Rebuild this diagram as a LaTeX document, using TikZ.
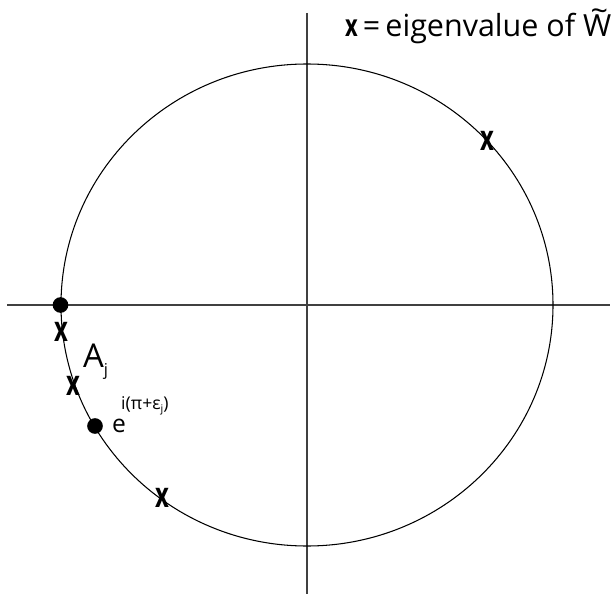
\documentclass[tikz,border=0pt]{standalone}
\usepackage{fontspec}
\setmainfont{Open Sans}
\usetikzlibrary{positioning}

\newcommand{\eigmark}{\scalebox{0.68}[1]{\textbf{x}}}

\begin{document}
\begin{tikzpicture}[x=0.03cm,y=-0.03cm]
  \tikzset{
    axis/.style={line width=1.2pt,black!75},
    eig/.style={font=\fontsize{30}{30}\selectfont,inner sep=0pt},
    root/.style={circle,fill=black,inner sep=0pt,minimum size=0.47cm},
    lbl/.style={inner sep=0pt,anchor=base west}
  }
  \useasboundingbox (0,0) rectangle (614,594);
  % axes
  \coordinate (O) at (307,305);
  \coordinate (xl) at (7,305);
  \coordinate (xr) at (610,305);
  \coordinate (yt) at (307,13);
  \coordinate (yb) at (307,594);
  \draw[axis] (xl)--(xr);
  \draw[axis] (yt)--(yb);
  % unit circle
  \draw[line width=0.9pt] (O) ellipse (246 and 241);
  % roots on the circle
  \node[root] (r1) at (60.5,305) {};
  \node[root] (r2) at (95,426) {};
  % eigenvalues
  \node[eig] (e1) at (61,332) {\eigmark};
  \node[eig] (e2) at (73,386) {\eigmark};
  \node[eig] (e3) at (162,498) {\eigmark};
  \node[eig] (e4) at (487,141) {\eigmark};
  % labels
  \node[lbl,font=\fontsize{28}{28}\selectfont] (aj) at (83,367) {A\raisebox{-0.25em}{\fontsize{14}{14}\selectfont j}};
  \node[lbl,font=\fontsize{21}{21}\selectfont] (ex) at (112,432) {e};
  \node[lbl,font=\fontsize{15}{15}\selectfont] (pw) at (121,409) {i(π+ε\raisebox{-0.2em}{\fontsize{9}{9}\selectfont j})};
  \node[lbl,font=\fontsize{26}{26}\selectfont] (key) at (345,37) {\textbf{\scalebox{0.72}[1]{x}}\,=\,eigenvalue of W\llap{\raisebox{0.5em}{\~{}}\hspace{0.1em}}};
\end{tikzpicture}
\end{document}
